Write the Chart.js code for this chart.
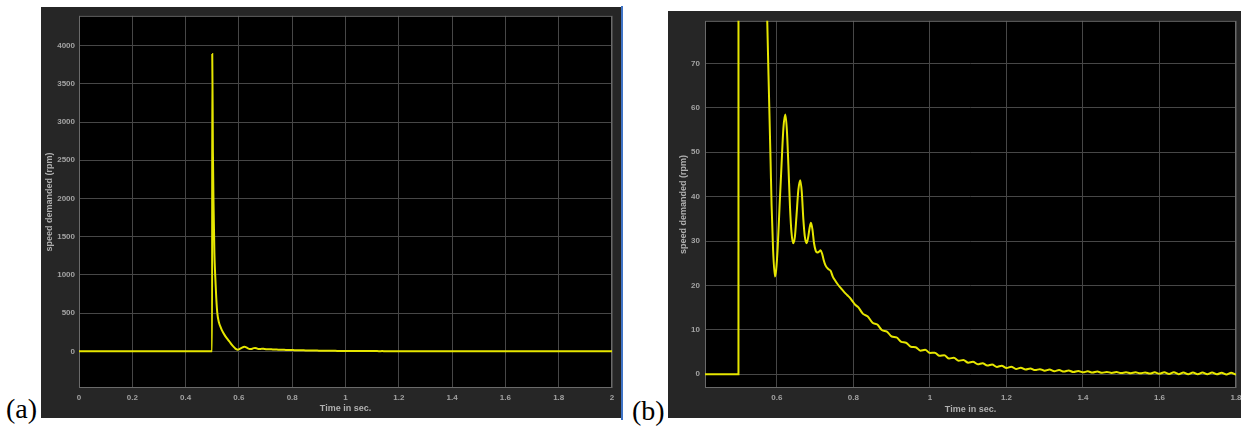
<!DOCTYPE html>
<html>
<head>
<meta charset="utf-8">
<script src="https://cdn.jsdelivr.net/npm/chart.js@4"></script>
<style>
  body { margin: 0; width: 1241px; height: 430px; background: #fff; position: relative; overflow: hidden; }
  .panel { position: absolute; background: #262626; overflow: hidden; }
  .tag { position: absolute; font-family: "Liberation Serif", serif; font-size: 28px; line-height: 1; color: #000; }
</style>
</head>
<body>
<div class="panel" style="left:41px;top:7px;width:581px;height:411px;">
  <canvas id="chartA" width="581" height="411"></canvas>
</div>
<div style="position:absolute;left:621px;top:6px;width:2px;height:414px;background:#3f74c6;"></div>
<div class="panel" style="left:668px;top:11px;width:573px;height:407px;">
  <canvas id="chartB" width="580" height="407"></canvas>
</div>
<div class="tag" style="left:6px;top:395px;">(a)</div>
<div class="tag" style="left:632px;top:397px;">(b)</div>

<script>
// simulated speed demand
const timeSec = [
    0, 0.4995, 0.5, 0.5025, 0.505, 0.508, 0.511, 0.515, 0.519, 0.525,
    0.531, 0.537, 0.546, 0.555, 0.565, 0.5746, 0.5795, 0.5835, 0.5861, 0.59,
    0.5948, 0.598, 0.602, 0.607, 0.6123, 0.617, 0.6218, 0.626, 0.63, 0.634,
    0.638, 0.6427, 0.647, 0.651, 0.656, 0.661, 0.665, 0.669, 0.673, 0.6776,
    0.682, 0.6855, 0.6889, 0.693, 0.697, 0.7015, 0.7054, 0.71, 0.7142, 0.718,
    0.722, 0.727, 0.7342, 0.7403, 0.746, 0.753, 0.7603, 0.768, 0.776, 0.784,
    0.791, 0.798, 0.804,
    0.8125, 0.825, 0.8375, 0.85, 0.8625, 0.875, 0.8875, 0.9, 0.9125, 0.925,
    0.9375, 0.95, 0.9625, 0.975, 0.9875, 1.0, 1.0125, 1.025, 1.0375, 1.05,
    1.0625, 1.075, 1.0875, 1.1, 1.1125, 1.125, 1.1375, 1.15, 1.1625, 1.175,
    1.1875, 1.2, 1.2125, 1.225, 1.2375, 1.25, 1.2625, 1.275, 1.2875, 1.3,
    1.3125, 1.325, 1.3375, 1.35, 1.3625, 1.375, 1.3875, 1.4, 1.4125, 1.425,
    1.4375, 1.45, 1.4625, 1.475, 1.4875, 1.5, 1.5125, 1.525, 1.5375, 1.55,
    1.5625, 1.575, 1.5875, 1.6, 1.6125, 1.625, 1.6375, 1.65, 1.6625, 1.675,
    1.6875, 1.7, 1.7125, 1.725, 1.7375, 1.75, 1.7625, 1.775, 1.7875, 1.8,
    1.85, 1.9, 1.95, 2.0
];
const speedRpm = [
    0, 0, 3890, 2600, 1900, 1300, 1000, 700, 500, 380,
    320, 270, 215, 170, 125, 80, 62, 47.6, 38, 28,
    22, 23.5, 28.5, 38, 47.6, 55.5, 58.5, 55, 47, 38,
    32, 29.5, 31, 35.5, 41.5, 43.7, 41, 35, 31, 29.5,
    31, 33, 34.1, 32.5, 29.5, 27.8, 27.4, 27.6, 27.9, 27.2,
    25.8, 24.5, 23.7, 23.3, 22.0, 21.0, 20.1, 19.3, 18.5, 17.8,
    17.2, 16.4, 15.7,
    15.1, 13.6, 13.0, 11.6, 11.2, 9.9, 9.6, 8.5, 8.3, 7.3,
    7.1, 6.2, 6.1, 5.3, 5.5, 4.8, 4.85, 4.15, 4.25, 3.55,
    3.7, 3.05, 3.2, 2.6, 2.8, 2.25, 2.5, 1.95, 2.2, 1.65,
    1.92, 1.4, 1.7, 1.2, 1.45, 1.07, 1.3, 0.93, 1.15, 0.8,
    1.05, 0.7, 0.95, 0.6, 0.85, 0.5, 0.75, 0.42, 0.65, 0.38,
    0.59, 0.32, 0.52, 0.3, 0.48, 0.26, 0.44, 0.23, 0.42, 0.2,
    0.41, 0.16, 0.42, 0.11, 0.43, 0.06, 0.43, 0.02, 0.41, 0.0,
    0.4, -0.01, 0.38, -0.02, 0.37, -0.03, 0.36, -0.04, 0.35, -0.05,
    0.12, 0.1, 0.08, 0.06
];

// tick labels of both scope windows
const timeTicksA = [0, 0.2, 0.4, 0.6, 0.8, 1, 1.2, 1.4, 1.6, 1.8, 2];
const speedTicksA = [0, 500, 1000, 1500, 2000, 2500, 3000, 3500, 4000];
const timeTicksB = [0.6, 0.8, 1, 1.2, 1.4, 1.6, 1.8];
const speedTicksB = [0, 10, 20, 30, 40, 50, 60, 70];

const lineColor = '#e6e600';
const gridColor = '#474747';
const boxColor = '#6a6a6a';
const tickColor = '#a3a3a3';

// black plot area plus the grey box all round it
const scopeBox = {
    id: 'scopeBox',
    beforeDraw(chart) {
        const { ctx, chartArea: a } = chart;
        ctx.save();
        ctx.fillStyle = '#000';
        ctx.fillRect(a.left, a.top, a.right - a.left, a.bottom - a.top);
        ctx.restore();
    },
    beforeDatasetsDraw(chart) {
        const { ctx, chartArea: a } = chart;
        ctx.save();
        ctx.strokeStyle = boxColor;
        ctx.lineWidth = 1;
        ctx.strokeRect(a.left + 0.5, a.top + 0.5, a.right - a.left - 1, a.bottom - a.top - 1);
        ctx.restore();
    }
};

function fmt(v) {
    return String(+Number(v).toFixed(3));
}

function makeScope(id, opts) {
    const points = timeSec.map((t, i) => ({ x: t, y: speedRpm[i] }));
    return new Chart(document.getElementById(id), {
        type: 'line',
        data: {
            datasets: [{
                data: points,
                borderColor: lineColor,
                borderWidth: 2,
                pointRadius: 0,
                cubicInterpolationMode: 'monotone',
                fill: false
            }]
        },
        options: {
            responsive: false,
            animation: false,
            parsing: false,
            layout: { padding: opts.padding },
            plugins: { legend: { display: false }, tooltip: { enabled: false } },
            scales: {
                x: {
                    type: 'linear',
                    min: opts.xMin,
                    max: opts.xMax,
                    afterBuildTicks: s => { s.ticks = opts.xTicks.map(v => ({ value: v })); },
                    afterFit: s => { s.height = 30; },
                    grid: { color: gridColor, drawTicks: false },
                    border: { display: false },
                    ticks: {
                        padding: 5,
                        color: tickColor,
                        maxRotation: 0,
                        autoSkip: false,
                        font: { family: 'Liberation Sans', size: 8, weight: 'bold' },
                        callback: v => fmt(v)
                    },
                    title: {
                        display: true,
                        text: 'Time in sec.',
                        color: '#b0b0b0',
                        padding: { top: 0, bottom: opts.xTitlePad },
                        font: { family: 'Liberation Sans', size: 9, weight: 'bold' }
                    }
                },
                y: {
                    type: 'linear',
                    min: opts.yMin,
                    max: opts.yMax,
                    afterBuildTicks: s => { s.ticks = opts.yTicks.map(v => ({ value: v })); },
                    afterFit: s => { s.width = opts.yWidth; },
                    grid: { color: gridColor, drawTicks: false },
                    border: { display: false },
                    ticks: {
                        padding: opts.yTickPad,
                        color: tickColor,
                        autoSkip: false,
                        font: { family: 'Liberation Sans', size: 8, weight: 'bold' },
                        callback: v => fmt(v)
                    },
                    title: {
                        display: true,
                        text: 'speed demanded (rpm)',
                        color: '#b0b0b0',
                        padding: { top: opts.yTitlePad, bottom: 0 },
                        font: { family: 'Liberation Sans', size: 9, weight: 'bold' }
                    }
                }
            }
        },
        plugins: [scopeBox]
    });
}

makeScope('chartA', {
    padding: { top: 7, right: 10, bottom: 0, left: 0 },
    xMin: 0, xMax: 2, xTicks: timeTicksA,
    yMin: -480, yMax: 4390, yTicks: speedTicksA,
    yWidth: 38, yTickPad: 4, yTitlePad: 3, xTitlePad: 4
});

makeScope('chartB', {
    padding: { top: 5, right: 12, bottom: 0, left: 0 },
    xMin: 0.412, xMax: 1.8, xTicks: timeTicksB,
    yMin: -3.1, yMax: 79.6, yTicks: speedTicksB,
    yWidth: 37, yTickPad: 5, yTitlePad: 10, xTitlePad: 3
});
</script>
</body>
</html>
